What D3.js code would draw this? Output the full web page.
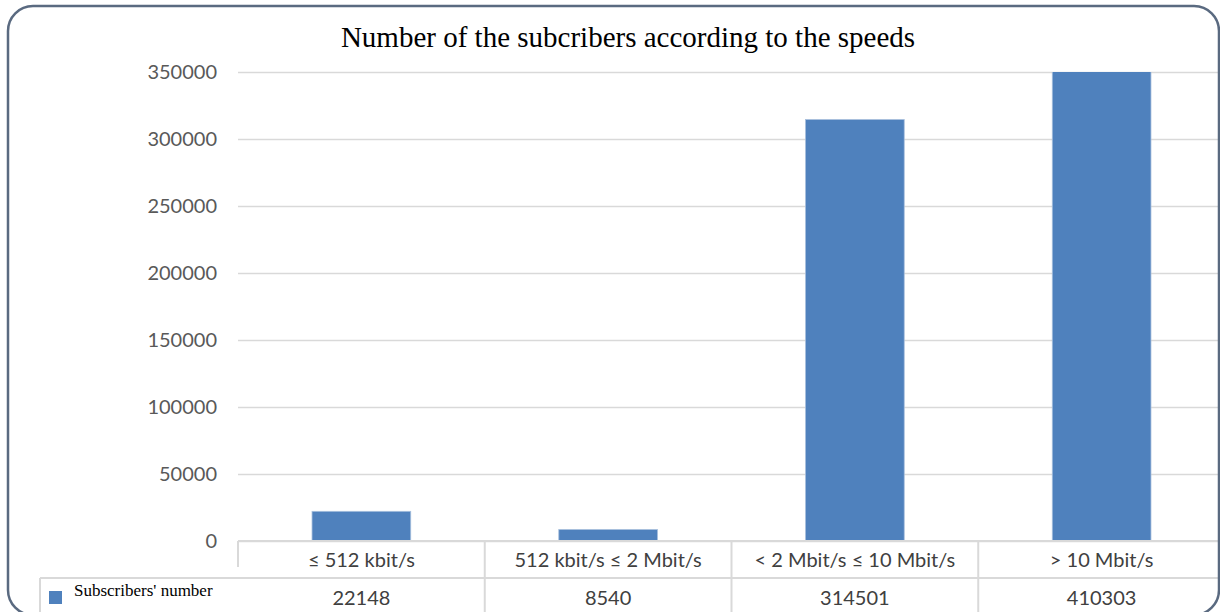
<!DOCTYPE html>
<html>
<head>
<meta charset="utf-8">
<script src="https://cdn.jsdelivr.net/npm/d3@7"></script>
<style>
  html, body { margin: 0; padding: 0; background: #fff; }
  svg { display: block; }
</style>
</head>
<body>
<div id="chart"></div>
<script>
const categories = ["≤ 512 kbit/s", "512 kbit/s ≤ 2 Mbit/s", "< 2 Mbit/s ≤ 10 Mbit/s", "> 10 Mbit/s"];
const subscribers = [22148, 8540, 314501, 410303];
const yTicks = [0, 50000, 100000, 150000, 200000, 250000, 300000, 350000];
const seriesName = "Subscribers' number";
const chartTitle = "Number of the subcribers according to the speeds";

const width = 1220, height = 612;
const plot = { left: 238, right: 1225, top: 72, bottom: 541 };

const svg = d3.select("#chart").append("svg")
  .attr("width", width)
  .attr("height", height);

const x = d3.scaleBand()
  .domain(categories)
  .range([plot.left, plot.right])
  .paddingInner(0.6)
  .paddingOuter(0.3);

const y = d3.scaleLinear()
  .domain([0, 350000])
  .range([plot.bottom, plot.top]);

// title
svg.append("text")
  .attr("x", 628)
  .attr("y", 47)
  .attr("text-anchor", "middle")
  .style("font-family", "'Liberation Serif', 'Times New Roman', serif")
  .style("font-size", "29px")
  .style("fill", "#000")
  .text(chartTitle);

// gridlines + y labels
const yAxis = d3.axisLeft(y)
  .tickValues(yTicks)
  .tickSize(-(plot.right - plot.left))
  .tickPadding(21)
  .tickFormat(d3.format("d"));

const gy = svg.append("g")
  .attr("transform", `translate(${plot.left},0)`)
  .call(yAxis);
gy.select(".domain").remove();
gy.selectAll(".tick line")
  .attr("stroke", "#d9d9d9")
  .attr("stroke-width", 1.5);
gy.selectAll(".tick text")
  .style("font-family", "Lato, 'Open Sans', sans-serif")
  .style("font-size", "20px")
  .style("fill", "#595959");

// bars (clipped at axis max)
svg.append("clipPath").attr("id", "plotclip")
  .append("rect")
  .attr("x", plot.left).attr("y", plot.top)
  .attr("width", plot.right - plot.left)
  .attr("height", plot.bottom - plot.top);

svg.append("g")
  .attr("clip-path", "url(#plotclip)")
  .selectAll("rect")
  .data(subscribers)
  .enter()
  .append("rect")
  .attr("x", (d, i) => x(categories[i]))
  .attr("width", x.bandwidth())
  .attr("y", d => y(d))
  .attr("height", d => plot.bottom - y(d))
  .attr("fill", "#4f81bd")
  .attr("stroke", "#a7bfdd")
  .attr("stroke-width", 0.8);

// data table
const rowTop = plot.bottom, rowMid = 578, rowBottom = 612;
const grid = svg.append("g")
  .attr("stroke", "#d9d9d9")
  .attr("stroke-width", 2);

grid.append("line")
  .attr("x1", plot.left).attr("x2", plot.right)
  .attr("y1", rowTop).attr("y2", rowTop);
grid.append("line")
  .attr("x1", 40).attr("x2", plot.right)
  .attr("y1", rowMid).attr("y2", rowMid);
grid.append("line")
  .attr("x1", plot.left).attr("x2", plot.left)
  .attr("y1", rowTop).attr("y2", 567);
grid.append("line")
  .attr("x1", 40).attr("x2", 40)
  .attr("y1", rowMid).attr("y2", rowBottom);

categories.slice(1).forEach(c => {
  const bx = x(c) - x.step() * x.paddingInner() / 2;
  grid.append("line")
    .attr("x1", bx).attr("x2", bx)
    .attr("y1", rowTop).attr("y2", rowBottom);
});

const cellFont = sel => sel
  .attr("text-anchor", "middle")
  .style("font-family", "Lato, 'Open Sans', sans-serif")
  .style("font-size", "20px")
  .style("fill", "#404040");

svg.append("g").selectAll("text")
  .data(categories)
  .enter()
  .append("text")
  .attr("x", d => x(d) + x.bandwidth() / 2)
  .attr("y", 567)
  .call(cellFont)
  .text(d => d);

svg.append("g").selectAll("text")
  .data(subscribers)
  .enter()
  .append("text")
  .attr("x", (d, i) => x(categories[i]) + x.bandwidth() / 2)
  .attr("y", 605)
  .call(cellFont)
  .text(d => d);

// legend key
svg.append("rect")
  .attr("x", 49).attr("y", 591)
  .attr("width", 13).attr("height", 13)
  .attr("fill", "#4f81bd");
svg.append("text")
  .attr("x", 74)
  .attr("y", 596)
  .style("font-family", "'Liberation Serif', 'Times New Roman', serif")
  .style("font-size", "17px")
  .style("fill", "#000")
  .text(seriesName);

// outer frame
svg.append("rect")
  .attr("x", 8).attr("y", 6)
  .attr("width", 1211).attr("height", 609)
  .attr("rx", 25).attr("ry", 25)
  .attr("fill", "none")
  .attr("stroke", "#5a6a80")
  .attr("stroke-width", 2.5);
</script>
</body>
</html>
